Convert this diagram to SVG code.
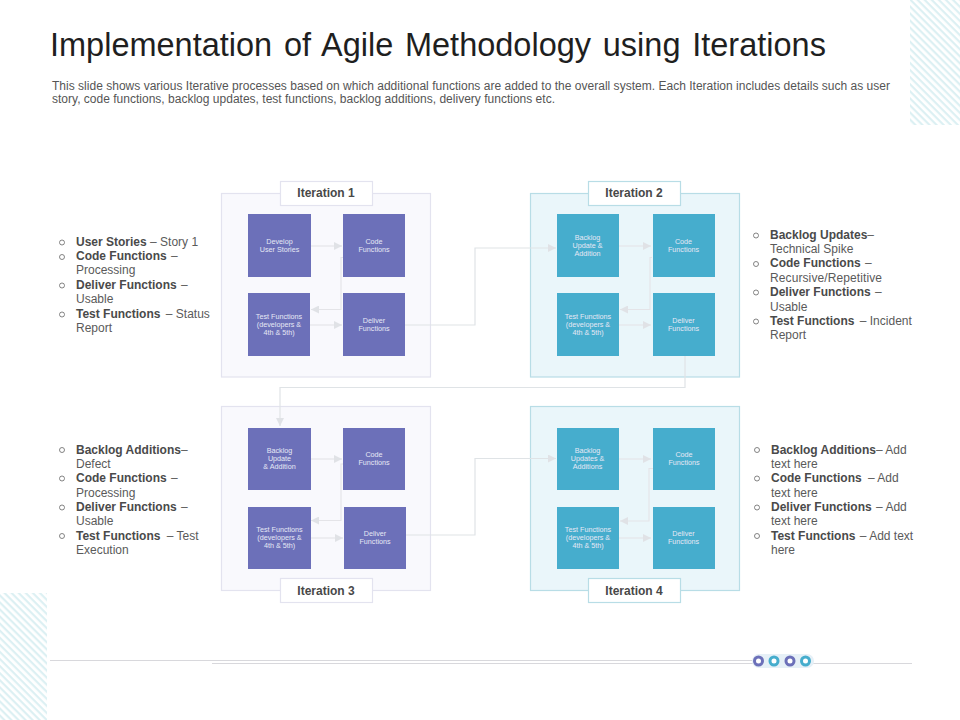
<svg xmlns="http://www.w3.org/2000/svg" width="960" height="720" viewBox="0 0 960 720">
<style>
text{font-family:"Liberation Sans",Arial,sans-serif}
.title{font-size:32.5px;fill:#1f1f1f}
.desc{font-size:12px;fill:#555}
.li{font-size:12px;fill:#5a5a5a}
.li .b{font-weight:700;fill:#4a4a4a}
.bul{fill:none;stroke:#666;stroke-width:.8}
.lab{font-size:12px;font-weight:700;fill:#484848;text-anchor:middle}
.pv{fill:#f9f9fd;stroke:#e3e3ef;stroke-width:1.2}
.pt{fill:#eaf6fa;stroke:#b8dde6;stroke-width:1.2}
.lv{fill:#fff;stroke:#e3e3ef;stroke-width:1.2}
.lt{fill:#fff;stroke:#b8dde6;stroke-width:1.2}
.bv{fill:#6c70b9}
.bt{fill:#46adcd}
.nt{font-size:7.2px;fill:#e6e8f5;text-anchor:middle}
.c{fill:none;stroke:#e4e4e8;stroke-width:1.1;marker-end:url(#a)}
.c2{fill:none;stroke:#dfe3e6;stroke-width:1.2;marker-end:url(#a)}
</style>
<defs>
<pattern id="st" width="5" height="5" patternUnits="userSpaceOnUse" patternTransform="rotate(45)">
<rect width="5" height="5" fill="#fff"/><rect width="5" height="2.200" fill="#dcf0f3"/>
</pattern>
<marker id="a" viewBox="0 0 8 8" refX="8" refY="4" markerWidth="8" markerHeight="8" markerUnits="userSpaceOnUse" orient="auto"><path d="M0 0L8 4L0 8Z" fill="#e0e2e6"/></marker>
</defs>

<g id="decor">
<rect x="910" y="0" width="50" height="125" fill="url(#st)"/>
<rect x="0" y="593" width="47" height="127" fill="url(#st)"/>
<path d="M50 660.500H753" stroke="#d8d8dc" fill="none"/>
<path d="M212 663.500H912" stroke="#d8d8dc" fill="none"/>
<rect x="752" y="654" width="62" height="14" rx="7" fill="#e6f0f7"/>
<circle cx="758.500" cy="661" r="4" fill="#fff" stroke="#6c70b9" stroke-width="3"/>
<circle cx="774" cy="661" r="4" fill="#fff" stroke="#46adcd" stroke-width="3"/>
<circle cx="790" cy="661" r="4" fill="#fff" stroke="#6c70b9" stroke-width="3"/>
<circle cx="805.500" cy="661" r="4" fill="#fff" stroke="#46adcd" stroke-width="3"/>
</g>

<g id="title"><text class="title" x="50" y="56" word-spacing="2.700">Implementation of Agile Methodology using Iterations</text></g>
<g id="description">
<text class="desc" x="52" y="90" textLength="838" lengthAdjust="spacing">This slide shows various Iterative processes based on which additional functions are added to the overall system. Each Iteration includes details such as user</text>
<text class="desc" x="52" y="103" textLength="503" lengthAdjust="spacing">story, code functions, backlog updates, test functions, backlog additions, delivery functions etc.</text>
</g>

<g id="panel-1"><rect class="pv" x="221.500" y="193.500" width="209" height="183.500"/><rect class="lv" x="280.500" y="181.500" width="92" height="24"/><text class="lab" x="326" y="197">Iteration 1</text></g>
<g id="panel-2"><rect class="pt" x="530.500" y="193.500" width="209" height="183.500"/><rect class="lt" x="588.500" y="181.500" width="92" height="24"/><text class="lab" x="634" y="197">Iteration 2</text></g>
<g id="panel-3"><rect class="pv" x="221.500" y="406.500" width="209" height="184"/><rect class="lv" x="280.500" y="578.500" width="92" height="24"/><text class="lab" x="326" y="595">Iteration 3</text></g>
<g id="panel-4"><rect class="pt" x="530.500" y="406.500" width="209" height="184"/><rect class="lt" x="588.500" y="578.500" width="92" height="24"/><text class="lab" x="634" y="595">Iteration 4</text></g>

<g id="n1a"><rect class="bv" x="248" y="214" width="63" height="63"/><text class="nt" x="279.500" y="244">Develop</text><text class="nt" x="279.500" y="252">User Stories</text></g>
<g id="n1b"><rect class="bv" x="343" y="214" width="62" height="63"/><text class="nt" x="374" y="244">Code</text><text class="nt" x="374" y="252">Functions</text></g>
<g id="n1c"><rect class="bv" x="248" y="293" width="62" height="63"/><text class="nt" x="279" y="319">Test Functions</text><text class="nt" x="279" y="327">(developers &amp;</text><text class="nt" x="279" y="335">4th &amp; 5th)</text></g>
<g id="n1d"><rect class="bv" x="343" y="293" width="62" height="63"/><text class="nt" x="374" y="323">Deliver</text><text class="nt" x="374" y="331">Functions</text></g>

<g id="n2a"><rect class="bt" x="557" y="214" width="62" height="63"/><text class="nt" x="587.500" y="240">Backlog</text><text class="nt" x="587.500" y="248">Update &amp;</text><text class="nt" x="587.500" y="256">Addition</text></g>
<g id="n2b"><rect class="bt" x="653" y="214" width="62" height="63"/><text class="nt" x="683.500" y="244">Code</text><text class="nt" x="683.500" y="252">Functions</text></g>
<g id="n2c"><rect class="bt" x="557" y="293" width="62" height="63"/><text class="nt" x="588" y="319">Test Functions</text><text class="nt" x="588" y="327">(developers &amp;</text><text class="nt" x="588" y="335">4th &amp; 5th)</text></g>
<g id="n2d"><rect class="bt" x="653" y="293" width="62" height="63"/><text class="nt" x="683.500" y="323">Deliver</text><text class="nt" x="683.500" y="331">Functions</text></g>

<g id="n3a"><rect class="bv" x="248" y="428" width="63" height="62"/><text class="nt" x="279.500" y="453">Backlog</text><text class="nt" x="279.500" y="461">Update</text><text class="nt" x="279.500" y="469">&amp; Addition</text></g>
<g id="n3b"><rect class="bv" x="343" y="428" width="62" height="62"/><text class="nt" x="374" y="457">Code</text><text class="nt" x="374" y="465">Functions</text></g>
<g id="n3c"><rect class="bv" x="248" y="507" width="63" height="62"/><text class="nt" x="279.500" y="532">Test Functions</text><text class="nt" x="279.500" y="540">(developers &amp;</text><text class="nt" x="279.500" y="548">4th &amp; 5th)</text></g>
<g id="n3d"><rect class="bv" x="344" y="507" width="62" height="62"/><text class="nt" x="375" y="536">Deliver</text><text class="nt" x="375" y="544">Functions</text></g>

<g id="n4a"><rect class="bt" x="557" y="428" width="62" height="62"/><text class="nt" x="587.500" y="453">Backlog</text><text class="nt" x="587.500" y="461">Updates &amp;</text><text class="nt" x="587.500" y="469">Additions</text></g>
<g id="n4b"><rect class="bt" x="653" y="428" width="62" height="62"/><text class="nt" x="684" y="457">Code</text><text class="nt" x="684" y="465">Functions</text></g>
<g id="n4c"><rect class="bt" x="557" y="507" width="62" height="62"/><text class="nt" x="588" y="532">Test Functions</text><text class="nt" x="588" y="540">(developers &amp;</text><text class="nt" x="588" y="548">4th &amp; 5th)</text></g>
<g id="n4d"><rect class="bt" x="653" y="507" width="62" height="62"/><text class="nt" x="683.500" y="536">Deliver</text><text class="nt" x="683.500" y="544">Functions</text></g>

<g id="connectors">
<path class="c" d="M311 246H342"/><path class="c" d="M343 257.500H341V309.500H311"/><path class="c" d="M310 325H342"/>
<path class="c" d="M619 246H651"/><path class="c" d="M652 257.500H650V309.500H620"/><path class="c" d="M619 325H651"/>
<path class="c" d="M311 459H342"/><path class="c" d="M343 464H341V520.500H311"/><path class="c" d="M311 538H343"/>
<path class="c" d="M619 459H651"/><path class="c" d="M653 468.500H649V521H620"/><path class="c" d="M619 538H651"/>
<path class="c2" d="M405 325H475V248H556"/>
<path class="c2" d="M685 356V387.500H280V426"/>
<path class="c2" d="M406 535H475V458.500H556"/>
</g>

<g id="list-1" class="li">
<circle class="bul" cx="62" cy="242.500" r="2.500"/><circle class="bul" cx="62" cy="257" r="2.500"/><circle class="bul" cx="62" cy="285.500" r="2.500"/><circle class="bul" cx="62" cy="314.500" r="2.500"/>
<text x="76" y="246"><tspan class="b">User Stories </tspan>– Story 1</text>
<text x="76" y="260"><tspan class="b">Code Functions </tspan><tspan dx="1">–</tspan></text>
<text x="76" y="274">Processing</text>
<text x="76" y="289"><tspan class="b">Deliver Functions </tspan><tspan dx="1">–</tspan></text>
<text x="76" y="303">Usable</text>
<text x="76" y="318"><tspan class="b">Test Functions </tspan><tspan dx="2">– Status</tspan></text>
<text x="76" y="332">Report</text>
</g>
<g id="list-2" class="li">
<circle class="bul" cx="756" cy="235.500" r="2.500"/><circle class="bul" cx="756" cy="264" r="2.500"/><circle class="bul" cx="756" cy="292.500" r="2.500"/><circle class="bul" cx="756" cy="321.500" r="2.500"/>
<text x="770" y="239"><tspan class="b">Backlog Updates</tspan>–</text>
<text x="770" y="253">Technical Spike</text>
<text x="770" y="267"><tspan class="b">Code Functions </tspan><tspan dx="1">–</tspan></text>
<text x="770" y="282" textLength="112">Recursive/Repetitive</text>
<text x="770" y="296"><tspan class="b">Deliver Functions </tspan><tspan dx="1">–</tspan></text>
<text x="770" y="311">Usable</text>
<text x="770" y="325"><tspan class="b">Test Functions </tspan><tspan dx="2">– Incident</tspan></text>
<text x="770" y="339">Report</text>
</g>
<g id="list-3" class="li">
<circle class="bul" cx="62" cy="450" r="2.500"/><circle class="bul" cx="62" cy="478.500" r="2.500"/><circle class="bul" cx="62" cy="507.500" r="2.500"/><circle class="bul" cx="62" cy="536" r="2.500"/>
<text x="76" y="454"><tspan class="b">Backlog Additions</tspan>–</text>
<text x="76" y="468">Defect</text>
<text x="76" y="482"><tspan class="b">Code Functions </tspan><tspan dx="1">–</tspan></text>
<text x="76" y="497">Processing</text>
<text x="76" y="511"><tspan class="b">Deliver Functions </tspan><tspan dx="1">–</tspan></text>
<text x="76" y="525">Usable</text>
<text x="76" y="540"><tspan class="b">Test Functions </tspan><tspan dx="3">– Test</tspan></text>
<text x="76" y="554">Execution</text>
</g>
<g id="list-4" class="li">
<circle class="bul" cx="757" cy="450" r="2.500"/><circle class="bul" cx="757" cy="478.500" r="2.500"/><circle class="bul" cx="757" cy="507.500" r="2.500"/><circle class="bul" cx="757" cy="536" r="2.500"/>
<text x="771" y="454"><tspan class="b">Backlog Additions</tspan>– Add</text>
<text x="771" y="468">text here</text>
<text x="771" y="482"><tspan class="b">Code Functions </tspan><tspan dx="3">– Add</tspan></text>
<text x="771" y="497">text here</text>
<text x="771" y="511"><tspan class="b">Deliver Functions </tspan><tspan dx="1">– Add</tspan></text>
<text x="771" y="525">text here</text>
<text x="771" y="540"><tspan class="b">Test Functions </tspan><tspan dx="1">– Add text</tspan></text>
<text x="771" y="554">here</text>
</g>
</svg>
